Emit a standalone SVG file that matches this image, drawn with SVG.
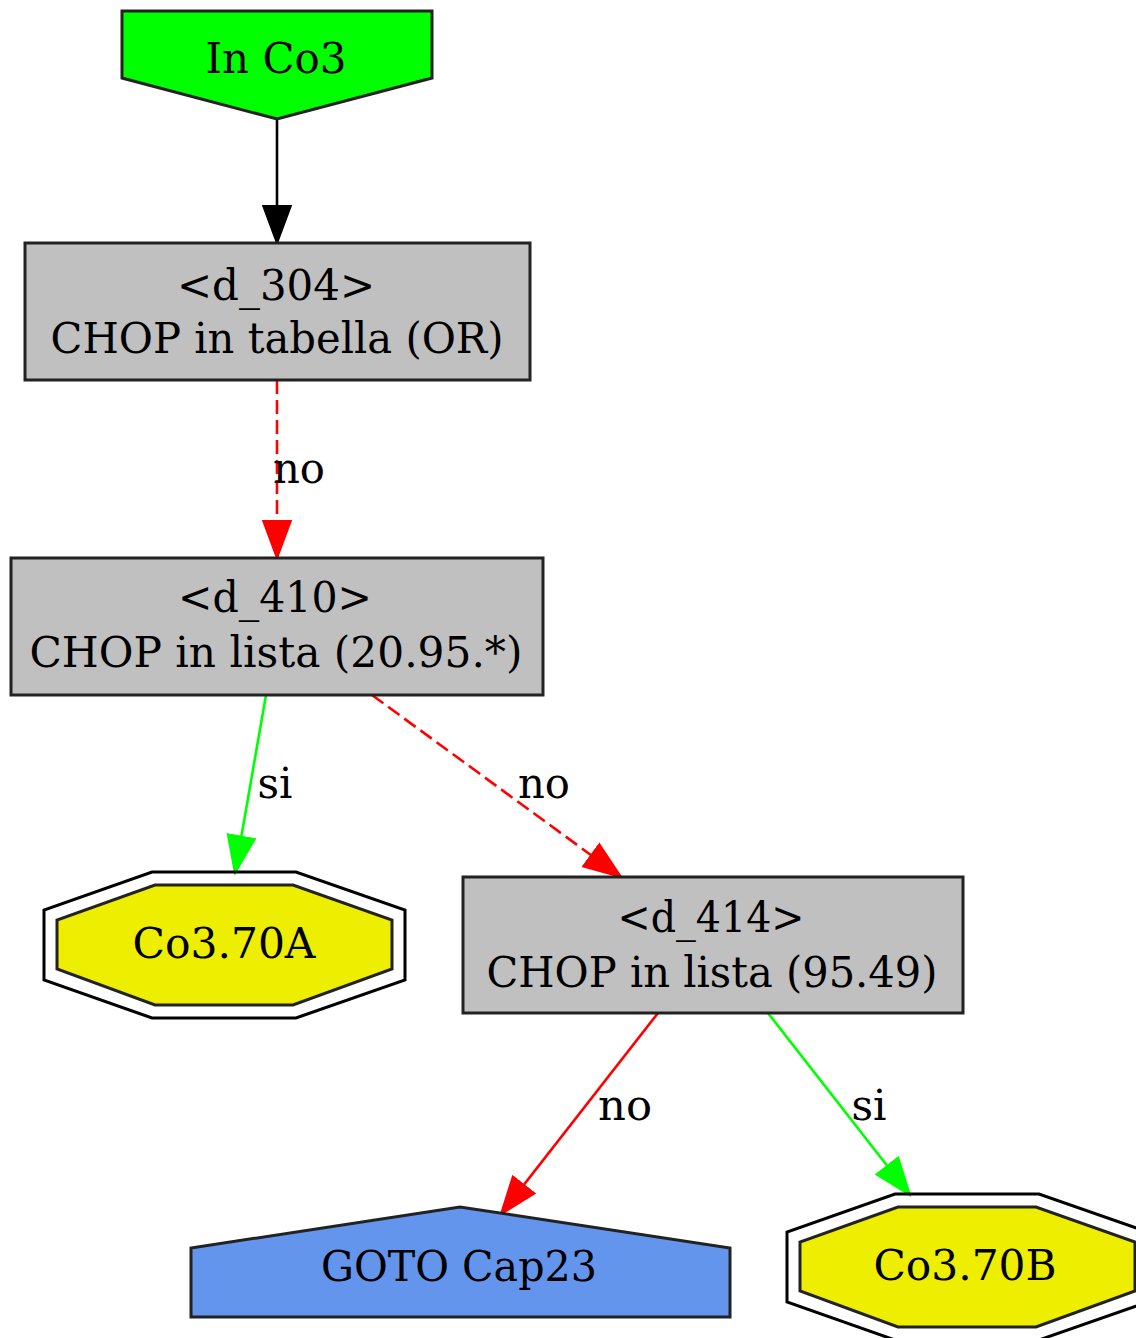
<svg xmlns="http://www.w3.org/2000/svg" width="1136" height="1338" viewBox="0 0 1136 1338">
<style>
  text { font-family: "DejaVu Serif", "Liberation Serif", serif; font-size: 42px; fill: #000; text-anchor: middle; }
  .node { stroke: #222; stroke-width: 3; }
  .box { fill: #c0c0c0; }
  .oct { fill: #eeee00; }
  .octo { fill: none; stroke: #000; stroke-width: 3; }
  .edge { fill: none; stroke-width: 2.6; }
  .dash { stroke-dasharray: 14 6; }
</style>
<defs>
  <marker id="ab" markerUnits="userSpaceOnUse" markerWidth="40" markerHeight="32" viewBox="-1 -15 38 30" refX="35" refY="0" orient="auto">
    <path d="M0,-13 L35,0 L0,13 Z" fill="#000" stroke="#000" stroke-width="2"/>
  </marker>
  <marker id="ar" markerUnits="userSpaceOnUse" markerWidth="40" markerHeight="32" viewBox="-1 -15 38 30" refX="35" refY="0" orient="auto">
    <path d="M0,-13 L35,0 L0,13 Z" fill="#ff0000" stroke="#ff0000" stroke-width="2"/>
  </marker>
  <marker id="ag" markerUnits="userSpaceOnUse" markerWidth="40" markerHeight="32" viewBox="-1 -15 38 30" refX="35" refY="0" orient="auto">
    <path d="M0,-13 L35,0 L0,13 Z" fill="#00ff00" stroke="#00ff00" stroke-width="2"/>
  </marker>
</defs>
<rect width="1136" height="1338" fill="#fff"/>

<g id="connectors">
  <line class="edge" x1="277" y1="119" x2="277" y2="243" stroke="#000" marker-end="url(#ab)"/>
  <line class="edge dash" x1="277" y1="380" x2="277" y2="558" stroke="#ff0000" marker-end="url(#ar)"/>
  <text x="299" y="483" textLength="52" lengthAdjust="spacingAndGlyphs">no</text>
  <line class="edge" x1="266" y1="695" x2="235" y2="873" stroke="#00ff00" marker-end="url(#ag)"/>
  <text x="275" y="798" textLength="35" lengthAdjust="spacingAndGlyphs">si</text>
  <line class="edge dash" x1="372" y1="695" x2="621" y2="877" stroke="#ff0000" marker-end="url(#ar)"/>
  <text x="544" y="798" textLength="52" lengthAdjust="spacingAndGlyphs">no</text>
  <line class="edge" x1="658" y1="1013" x2="501" y2="1214" stroke="#ff0000" marker-end="url(#ar)"/>
  <text x="625" y="1120" textLength="54" lengthAdjust="spacingAndGlyphs">no</text>
  <line class="edge" x1="768" y1="1013" x2="910" y2="1195" stroke="#00ff00" marker-end="url(#ag)"/>
  <text x="869" y="1120" textLength="35" lengthAdjust="spacingAndGlyphs">si</text>
</g>

<g id="n_in_co3">
  <polygon class="node" points="122,11 432,11 432,78 277,119 122,78" fill="#00ff00"/>
  <text x="276" y="73" textLength="141" lengthAdjust="spacingAndGlyphs">In Co3</text>
</g>

<g id="n_d304">
  <rect class="node box" x="25" y="243" width="505" height="137"/>
  <text x="276" y="300" textLength="198" lengthAdjust="spacingAndGlyphs">&lt;d_304&gt;</text>
  <text x="277" y="353" textLength="453" lengthAdjust="spacingAndGlyphs">CHOP in tabella (OR)</text>
</g>

<g id="n_d410">
  <rect class="node box" x="11" y="558" width="532" height="137"/>
  <text x="275" y="612" textLength="194" lengthAdjust="spacingAndGlyphs">&lt;d_410&gt;</text>
  <text x="276" y="667" textLength="493" lengthAdjust="spacingAndGlyphs">CHOP in lista (20.95.*)</text>
</g>

<g id="n_c0370a">
  <polygon class="octo" points="152,872 296,872 405,910 405,980 296,1018 152,1018 44,980 44,910"/>
  <polygon class="node oct" points="155,885 293,885 392,920 392,969 293,1005 155,1005 57,969 57,920"/>
  <text x="224" y="958" textLength="183" lengthAdjust="spacingAndGlyphs">Co3.70A</text>
</g>

<g id="n_d414">
  <rect class="node box" x="463" y="877" width="500" height="136"/>
  <text x="711" y="932" textLength="187" lengthAdjust="spacingAndGlyphs">&lt;d_414&gt;</text>
  <text x="712" y="987" textLength="451" lengthAdjust="spacingAndGlyphs">CHOP in lista (95.49)</text>
</g>

<g id="n_goto_cap23">
  <polygon class="node" points="191,1317 191,1248 460,1207 730,1248 730,1317" fill="#6495ed"/>
  <text x="459" y="1281" textLength="276" lengthAdjust="spacingAndGlyphs">GOTO Cap23</text>
</g>

<g id="n_c0370b">
  <polygon class="octo" points="895,1194 1039,1194 1148,1232 1148,1302 1039,1340 895,1340 787,1302 787,1232"/>
  <polygon class="node oct" points="898,1207 1036,1207 1135,1242 1135,1291 1036,1327 898,1327 800,1291 800,1242"/>
  <text x="965" y="1280" textLength="183" lengthAdjust="spacingAndGlyphs">Co3.70B</text>
</g>
</svg>
